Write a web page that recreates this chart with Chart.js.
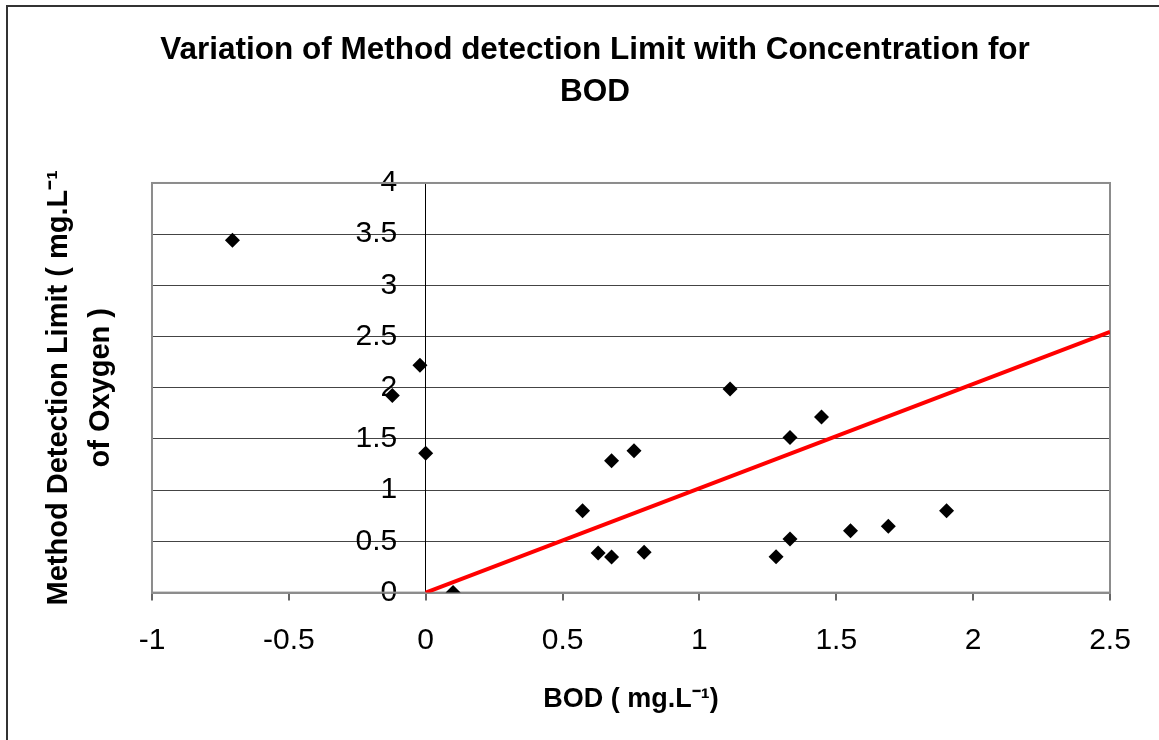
<!DOCTYPE html>
<html>
<head>
<meta charset="utf-8">
<script src="https://cdn.jsdelivr.net/npm/chart.js@4/dist/chart.umd.min.js"></script>
<style>
  html, body { margin: 0; padding: 0; background: #fff; }
  #wrap { position: relative; width: 1159px; height: 740px; }
  #frame { position: absolute; left: 6px; top: 5px; right: 0; bottom: 0;
           border-left: 2px solid #333; border-top: 2px solid #333; pointer-events: none; }
</style>
</head>
<body>
<div id="wrap">
  <canvas id="c" width="1159" height="740"></canvas>
  <div id="frame"></div>
</div>
<script>
// BOD concentration (x) vs method detection limit (y)
const bodConc = [-0.706, -0.021, -0.122, 0.0, 0.1, 0.573, 0.63, 0.679, 0.679, 0.761, 0.798, 1.112, 1.28, 1.331, 1.331, 1.446, 1.552, 1.69, 1.903];
const mdlValues = [3.44, 2.22, 1.925, 1.36, 0.0, 0.8, 0.387, 0.348, 1.288, 1.385, 0.393, 1.987, 0.351, 1.515, 0.524, 1.714, 0.605, 0.647, 0.8];

// linear trend line end points
const trendX = [0, 2.5];
const trendY = [0, 2.545];

const xTicks = [-1, -0.5, 0, 0.5, 1, 1.5, 2, 2.5];
const yTicks = [0, 0.5, 1, 1.5, 2, 2.5, 3, 3.5, 4];

const FONT = "Arial, 'Liberation Sans', sans-serif";
const plain = (v) => String(v);

// grey frame round the plot area
const plotFrame = {
  id: "plotFrame",
  beforeDatasetsDraw(chart) {
    const { ctx, chartArea: a } = chart;
    ctx.save();
    ctx.strokeStyle = "#8c8c8c";
    ctx.lineWidth = 2;
    ctx.strokeRect(a.left, a.top, a.right - a.left, a.bottom - a.top);
    ctx.restore();
  },
};

new Chart(document.getElementById("c"), {
  type: "scatter",
  data: {
    datasets: [
      {
        label: "Trend",
        type: "line",
        data: trendX.map((x, i) => ({ x, y: trendY[i] })),
        borderColor: "#ff0000",
        borderWidth: 4,
        pointRadius: 0,
        fill: false,
        order: 0,
      },
      {
        label: "MDL",
        data: bodConc.map((x, i) => ({ x, y: mdlValues[i] })),
        pointStyle: "rectRot",
        pointRadius: 7.5,
        backgroundColor: "#000",
        borderColor: "#000",
        borderWidth: 0,
        order: 1,
      },
    ],
  },
  options: {
    responsive: false,
    animation: false,
    // left padding is wider so the main title centres where the original does
    layout: { padding: { left: 80, right: 49, top: 19, bottom: 24 } },
    plugins: {
      legend: { display: false },
      tooltip: { enabled: false },
      title: {
        display: true,
        text: ["Variation of Method detection Limit with Concentration for", "BOD"],
        color: "#000",
        font: { family: FONT, size: 31.5, weight: "bold", lineHeight: 1.333 },
        padding: { top: 10, bottom: 70 },
      },
    },
    scales: {
      x: {
        type: "linear",
        position: "bottom",
        min: -1,
        max: 2.5,
        afterBuildTicks: (s) => { s.ticks = xTicks.map((v) => ({ value: v })); },
        ticks: { color: "#000", font: { family: FONT, size: 30 }, padding: 22, maxRotation: 0, callback: plain },
        grid: { drawOnChartArea: false, drawTicks: true, tickLength: 8, color: "#666", lineWidth: 2 },
        border: { color: "#8c8c8c", width: 2 },
        title: {
          display: true,
          text: "BOD ( mg.L\u207B\u00B9)",
          color: "#000",
          font: { family: FONT, size: 27, weight: "bold" },
          padding: { top: 3, bottom: 0 },
        },
      },
      // axis line, gridlines and tick marks crossing at x = 0
      y: {
        type: "linear",
        position: { x: 0 },
        min: 0,
        max: 4,
        afterBuildTicks: (s) => { s.ticks = yTicks.map((v) => ({ value: v })); },
        ticks: { display: false },
        grid: { color: "#444", lineWidth: 1, tickLength: 9, drawTicks: true },
        border: { color: "#000", width: 1 },
      },
      // tick labels, set a little left of the axis line
      yLab: {
        type: "linear",
        position: { x: -0.104 },
        min: 0,
        max: 4,
        afterBuildTicks: (s) => { s.ticks = yTicks.map((v) => ({ value: v })); },
        ticks: { color: "#000", font: { family: FONT, size: 30 }, callback: plain },
        grid: { display: false },
        border: { display: false },
      },
      yTitle: {
        type: "linear",
        position: "left",
        display: true,
        min: 0,
        max: 4,
        ticks: { display: false },
        grid: { display: false, drawTicks: false },
        border: { display: false },
        title: {
          display: true,
          text: ["Method Detection Limit ( mg.L\u207B\u00B9", "of Oxygen )"],
          color: "#000",
          font: { family: FONT, size: 29, weight: "bold", lineHeight: 1.448 },
          padding: { top: -42, bottom: 30 },
        },
      },
    },
  },
  plugins: [plotFrame],
});
</script>
</body>
</html>
